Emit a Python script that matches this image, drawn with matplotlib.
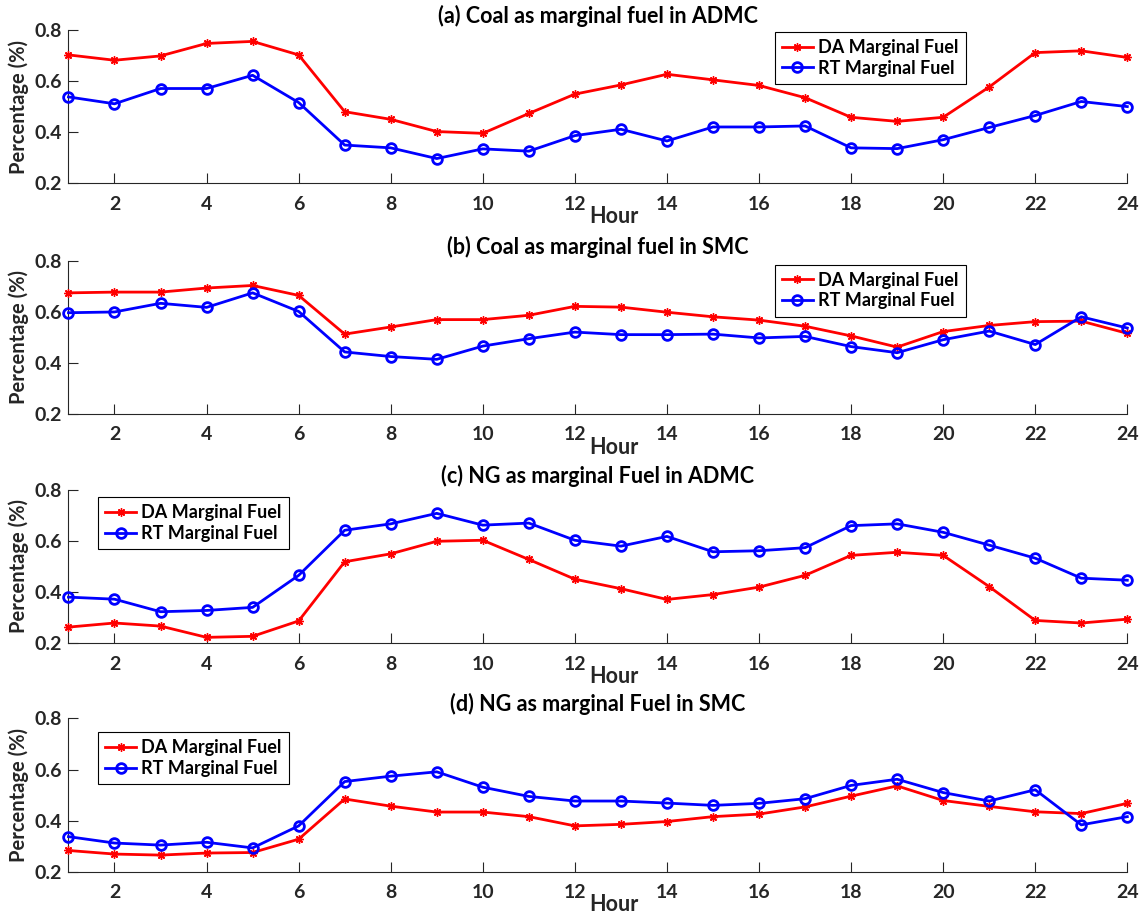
import numpy as np
import matplotlib
matplotlib.use("Agg")
import matplotlib.pyplot as plt

hours = list(range(1, 25))

# (a) coal, ADMC
coal_admc_da = [0.703, 0.682, 0.699, 0.748, 0.756, 0.703, 0.480, 0.450, 0.402, 0.395, 0.473, 0.549,
                0.585, 0.627, 0.605, 0.583, 0.535, 0.458, 0.442, 0.458, 0.577, 0.712, 0.719, 0.693]
coal_admc_rt = [0.538, 0.511, 0.571, 0.571, 0.623, 0.516, 0.349, 0.338, 0.296, 0.334, 0.325, 0.386,
                0.411, 0.365, 0.420, 0.420, 0.424, 0.338, 0.335, 0.370, 0.418, 0.465, 0.520, 0.500]

# (b) coal, SMC
coal_smc_da = [0.674, 0.677, 0.677, 0.693, 0.703, 0.664, 0.512, 0.540, 0.569, 0.569, 0.586, 0.621,
               0.618, 0.598, 0.580, 0.567, 0.543, 0.505, 0.461, 0.522, 0.546, 0.561, 0.563, 0.515]
coal_smc_rt = [0.596, 0.599, 0.633, 0.617, 0.674, 0.601, 0.442, 0.424, 0.413, 0.465, 0.494, 0.520,
               0.510, 0.510, 0.512, 0.497, 0.503, 0.463, 0.439, 0.490, 0.524, 0.471, 0.580, 0.536]

# (c) NG, ADMC
ng_admc_da = [0.263, 0.279, 0.267, 0.223, 0.227, 0.287, 0.518, 0.549, 0.598, 0.602, 0.527, 0.450,
              0.413, 0.371, 0.390, 0.419, 0.465, 0.543, 0.555, 0.543, 0.421, 0.289, 0.279, 0.294]
ng_admc_rt = [0.380, 0.372, 0.323, 0.328, 0.340, 0.465, 0.641, 0.666, 0.707, 0.661, 0.669, 0.602,
              0.579, 0.617, 0.557, 0.561, 0.573, 0.659, 0.666, 0.633, 0.583, 0.532, 0.454, 0.446]

# (d) NG, SMC
ng_smc_da = [0.284, 0.270, 0.266, 0.274, 0.276, 0.328, 0.485, 0.457, 0.434, 0.434, 0.416, 0.380,
             0.386, 0.397, 0.416, 0.426, 0.454, 0.496, 0.536, 0.479, 0.456, 0.435, 0.428, 0.468]
ng_smc_rt = [0.338, 0.313, 0.305, 0.316, 0.294, 0.380, 0.553, 0.574, 0.591, 0.531, 0.495, 0.477,
             0.477, 0.469, 0.460, 0.468, 0.486, 0.538, 0.562, 0.510, 0.477, 0.521, 0.384, 0.416]

titles = ["(a) Coal as marginal fuel in ADMC",
          "(b) Coal as marginal fuel in SMC",
          "(c) NG as marginal Fuel in ADMC",
          "(d) NG as marginal Fuel in SMC"]
series = [(coal_admc_da, coal_admc_rt), (coal_smc_da, coal_smc_rt),
          (ng_admc_da, ng_admc_rt), (ng_smc_da, ng_smc_rt)]

plt.rcParams['font.family'] = ['Lato', 'DejaVu Sans']
plt.rcParams['font.weight'] = 'bold'

fig = plt.figure(figsize=(11.41, 9.15), dpi=100)

# axes boxes [left, bottom, width, height] in figure fractions
boxes = [[0.060, 0.800, 0.928, 0.167],
         [0.060, 0.548, 0.928, 0.167],
         [0.060, 0.297, 0.928, 0.168],
         [0.060, 0.047, 0.928, 0.168]]
# legend anchors (axes coords, upper-left corner)
leg_pos = [(0.667, 0.99), (0.667, 0.975), (0.028, 0.95), (0.028, 0.91)]
# vertical position of the "Hour" label under each axes
hour_y = [-0.15, -0.15, -0.15, -0.14]

gray = '#262626'

for i in range(4):
    ax = fig.add_axes(boxes[i])
    da, rt = series[i]
    ax.plot(hours, da, color='red', lw=2, marker=(8, 2, 0), ms=6, mew=1,
            label='DA Marginal Fuel', clip_on=False, zorder=3)
    ax.plot(hours, rt, color='blue', lw=2, marker='o', ms=7, mew=2, mfc='none',
            label='RT Marginal Fuel', clip_on=False, zorder=3)

    ax.set_xlim(1, 24)
    ax.set_ylim(0.2, 0.8)
    ax.set_xticks(range(2, 25, 2))
    ax.set_yticks([0.2, 0.4, 0.6, 0.8])
    ax.set_yticklabels(['0.2', '0.4', '0.6', '0.8'])
    ax.spines['top'].set_visible(False)
    ax.spines['right'].set_visible(False)
    for s in ('left', 'bottom'):
        ax.spines[s].set_color(gray)
        ax.spines[s].set_linewidth(0.8)
    ax.tick_params(direction='in', length=7, width=0.8, colors=gray, labelsize=14)
    ax.tick_params(axis='x', pad=9)
    ax.tick_params(axis='y', pad=5)
    for lab in ax.get_xticklabels() + ax.get_yticklabels():
        lab.set_fontweight('bold')

    ax.set_title(titles[i], fontsize=15.5, fontweight='bold', color='black', pad=5)
    ax.set_xlabel('Hour', fontsize=15.5, fontweight='bold', color=gray)
    ax.xaxis.set_label_coords(0.515, hour_y[i])
    ax.set_ylabel('Percentage (%)', fontsize=14.5, fontweight='bold', color=gray)
    ax.yaxis.set_label_coords(-0.037, 0.5)

    leg = ax.legend(loc='upper left', bbox_to_anchor=leg_pos[i], fancybox=False,
                    edgecolor='black', framealpha=1, fontsize=13,
                    handlelength=1.7, borderpad=0.4, labelspacing=0.2,
                    handletextpad=0.3, borderaxespad=0)
    leg.get_frame().set_linewidth(0.8)
    for t in leg.get_texts():
        t.set_fontweight('bold')

fig.savefig('out.png', dpi=100)
